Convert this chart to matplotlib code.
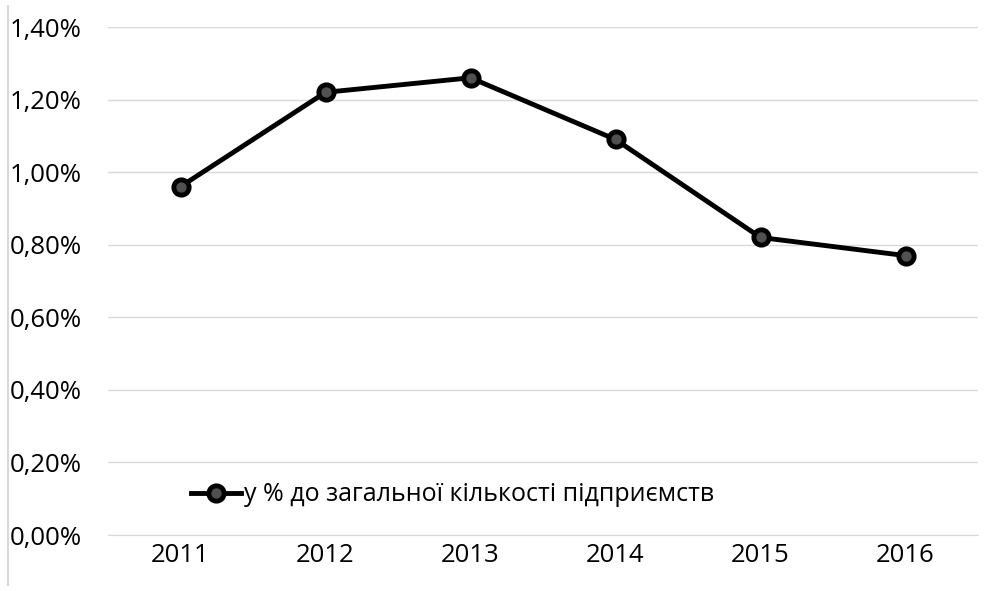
import matplotlib
matplotlib.use("Agg")
import matplotlib.pyplot as plt
from matplotlib.lines import Line2D

years = ["2011", "2012", "2013", "2014", "2015", "2016"]
share = [0.96, 1.22, 1.26, 1.09, 0.82, 0.77]
y_ticks = [0.0, 0.2, 0.4, 0.6, 0.8, 1.0, 1.2, 1.4]
label = "у % до загальної кількості підприємств"

plt.rcParams['font.family'] = ['Open Sans', 'DejaVu Sans']

fig = plt.figure(figsize=(9.89, 5.91), dpi=100)
ax = fig.add_axes([108 / 989, 56 / 591, 870 / 989, 508 / 591])

x = range(len(years))
ax.plot(x, share, color="black", lw=3.5, marker="o", markersize=11,
        markerfacecolor="#505050", markeredgecolor="black", markeredgewidth=3.5,
        label=label, zorder=3)

ax.set_xlim(-0.5, len(years) - 0.5)
ax.set_ylim(0, 1.4)
ax.set_xticks(list(x))
ax.set_xticklabels(years, fontsize=18.5)
ax.set_yticks(y_ticks)
ax.set_yticklabels([("%.2f%%" % v).replace(".", ",") for v in y_ticks], fontsize=18.5)
for t in ax.get_yticklabels():
    t.set_horizontalalignment("left")
ax.tick_params(axis="y", length=0, pad=71)
ax.tick_params(axis="x", length=0, pad=6)

ax.grid(axis="y", color="#d9d9d9", lw=1)
ax.set_axisbelow(True)
for s in ["top", "right", "left"]:
    ax.spines[s].set_visible(False)
ax.spines["bottom"].set_color("#d9d9d9")

handle = Line2D([], [], color="black", lw=3.5, marker="o", markersize=11,
                markerfacecolor="#505050", markeredgecolor="black", markeredgewidth=3.5)
ax.legend([handle], [label], loc="lower left", bbox_to_anchor=(0.07, 0.01),
          frameon=False, fontsize=18, handlelength=2.0, handletextpad=0.1)

fig.add_artist(Line2D([8 / 989, 8 / 989], [0.01, 0.99], color="#d9d9d9", lw=1.5))

fig.savefig("out.png", dpi=100)
